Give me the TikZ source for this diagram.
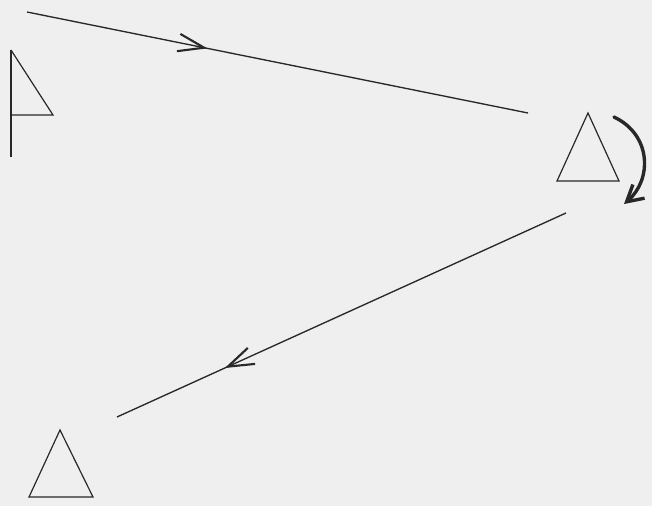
\documentclass[tikz,border=0pt]{standalone}
\usetikzlibrary{arrows.meta,decorations.markings}
\definecolor{scangray}{RGB}{239,239,239}
\definecolor{ink}{RGB}{40,40,40}

\begin{document}
\begin{tikzpicture}[x=0.025cm,y=-0.025cm,
    ray/.style={draw=ink,line width=0.95pt},
    sign/.style={draw=ink,line width=0.85pt,line join=miter},
    midarrow/.style={postaction={decorate},decoration={markings,
      mark=at position #1 with {\arrow{Straight Barb[length=6.5mm,width=4.4mm,line width=1.5pt]}}}}]
        % scanned sheet
        \fill[scangray] (0,0) rectangle (652,506);
        \useasboundingbox (0,0) rectangle (652,506);
        % stations
        \coordinate (pole) at (11,50);
        \coordinate (poleFoot) at (11,157);
        \coordinate (flagTip) at (53,115);
        \coordinate (flagBase) at (11,115);
        \coordinate (right) at (588,113);
        \coordinate (left) at (60,430);
        \draw[sign] (pole) -- (poleFoot);
        \draw[sign] (pole) -- (flagTip) -- (flagBase);
        \draw[sign] (right) -- ++(-31,68) -- ++(62,0) -- cycle;
        \draw[sign] (left) -- ++(-31,67) -- ++(64,0) -- cycle;
        % rays
        \coordinate (outStart) at (27,12);
        \coordinate (outEnd) at (528,113);
        \coordinate (backStart) at (566,213);
        \coordinate (backEnd) at (117,417);
        \draw[ray,midarrow=0.36] (outStart) -- (outEnd);
        \draw[ray,midarrow=0.76] (backStart) -- (backEnd);
        % turn at the far station
        \coordinate (turnA) at (614,117);
        \coordinate (turnB) at (624,204);
        \draw[draw=ink,line width=2.4pt,line cap=round,
          -{Straight Barb[length=4mm,width=4.5mm]}]
          (turnA) .. controls (652,135) and (652,180) .. (turnB);
      \end{tikzpicture}
\end{document}
